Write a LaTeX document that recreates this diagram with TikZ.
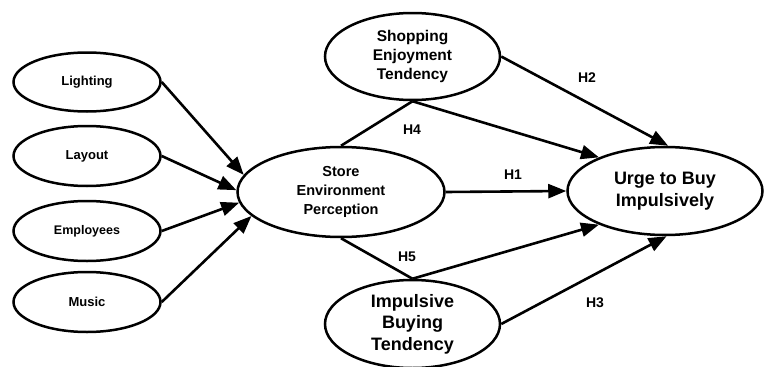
\documentclass[tikz,border=0pt]{standalone}
\usepackage{fontspec}
\setmainfont{Liberation Sans}
\usetikzlibrary{arrows.meta,shapes.geometric}
\tikzset{
  construct/.style 2 args={ellipse,draw,line width=2.5pt,inner sep=0pt,align=center,
    font=\bfseries\fontsize{#1}{#2}\selectfont},
  hyp/.style={font=\bfseries\fontsize{14}{16}\selectfont},
  link/.style={line width=2.6pt},
  effect/.style={link,-{Triangle[length=18pt,width=14pt]}}
}

\begin{document}
\begin{tikzpicture}[x=1pt,y=-1pt]
  \useasboundingbox (0,0) rectangle (764,367);
  % antecedents of the store environment
  \node[construct={13}{15.6},minimum width=147pt,minimum height=59pt] (light) at (87,82) {Lighting};
  \node[construct={13}{15.6},minimum width=147pt,minimum height=60pt] (layout) at (87,156) {Layout};
  \node[construct={12.5}{15},minimum width=147pt,minimum height=60pt] (staff) at (87,231) {Employees};
  \node[construct={13}{15.6},minimum width=147pt,minimum height=60pt] (music) at (87,302) {Music};
  % central constructs
  \node[construct={14.5}{18.7},minimum width=207pt,minimum height=90pt] (sep) at (341,192) {Store\\Environment\\Perception};
  \node[construct={15.5}{19},minimum width=175pt,minimum height=87pt] (shop) at (412.5,56.5) {Shopping\\Enjoyment\\Tendency};
  \node[construct={18}{21.5},minimum width=175pt,minimum height=88pt] (imp) at (412.5,324) {Impulsive\\Buying\\Tendency};
  \node[construct={18}{21.7},minimum width=195pt,minimum height=88pt] (urge) at (665,191) {Urge to Buy\\Impulsively};

  \draw[effect] (light.east) -- (sep.170);
  \draw[effect] (layout.east) -- (sep.179);
  \draw[effect] (staff.east) -- (sep.186);
  \draw[effect] (music.east) -- (sep.195);

  \draw[effect] (sep.east) -- (urge.west);
  \draw[effect] (shop.east) -- (urge.86);
  \draw[effect] (imp.east) -- (urge.272);
  % moderators
  \draw[link] (sep.north) -- (shop.south);
  \draw[effect] (shop.south) -- (urge.153);
  \draw[link] (sep.south) -- (imp.north);
  \draw[effect] (imp.north) -- (urge.207);

  \node[hyp] (h1) at (513,175) {H1};
  \node[hyp] (h2) at (587,78) {H2};
  \node[hyp] (h3) at (595,303) {H3};
  \node[hyp] (h4) at (412,130) {H4};
  \node[hyp] (h5) at (407,257) {H5};
\end{tikzpicture}
\end{document}
